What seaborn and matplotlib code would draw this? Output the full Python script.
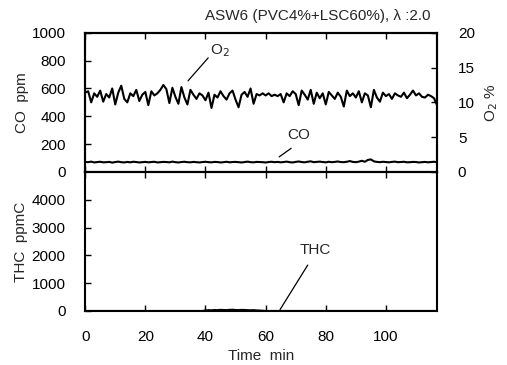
import numpy as np
import pandas as pd
import matplotlib
matplotlib.use("Agg")
import matplotlib.pyplot as plt
import seaborn as sns

sns.set_theme(style="white")
plt.rcParams['font.family'] = ['Liberation Sans', 'DejaVu Sans']

# ---- data ----
time_min = list(range(0, 118))
o2_pct = [11.4, 11.6, 10.0, 11.3, 10.8, 11.7, 10.1, 11.2, 10.7, 12.0,
          9.7, 11.4, 12.4, 10.5, 10.0, 11.3, 10.9, 11.8, 10.2, 11.1,
          11.5, 9.6, 11.6, 11.0, 11.3, 11.8, 12.5, 11.9, 9.9, 12.1,
          10.8, 9.8, 12.2, 10.7, 9.7, 11.8, 11.1, 10.5, 11.3, 11.0,
          10.3, 11.4, 9.2, 11.1, 10.7, 11.6, 10.9, 10.4, 11.3, 11.7,
          10.4, 9.3, 11.1, 11.5, 10.8, 12.0, 9.8, 11.2, 11.0, 11.3,
          11.0, 11.3, 10.9, 11.1, 10.9, 11.2, 10.0, 11.3, 10.9, 11.6,
          11.2, 9.6, 11.7, 11.1, 10.4, 11.8, 9.8, 11.4, 10.6, 11.3,
          9.7, 11.5, 11.0, 10.5, 11.4, 10.8, 9.4, 11.7, 10.9, 11.3,
          10.7, 11.6, 10.0, 11.3, 11.0, 9.3, 11.8, 10.7, 10.1, 11.4,
          10.9, 11.2, 10.5, 11.3, 11.0, 10.8, 11.4, 10.6, 11.1, 11.7,
          11.0, 11.3, 10.8, 10.7, 11.1, 10.9, 10.6, 9.6]
co_ppm = [72, 70, 74, 68, 71, 73, 69, 70, 72, 67,
          71, 74, 70, 68, 72, 69, 73, 71, 68, 70,
          72, 69, 71, 73, 68, 70, 72, 71, 69, 74,
          70, 68, 71, 73, 70, 69, 72, 70, 68, 71,
          73, 70, 69, 72, 71, 68, 70, 73, 69, 71,
          72, 70, 68, 71, 74, 70, 69, 72, 71, 70,
          68, 71, 73, 70, 72, 69, 71, 74, 70, 68,
          72, 75, 71, 69, 73, 76, 70, 72, 74, 71,
          69, 73, 70, 72, 75, 71, 70, 73, 78, 72,
          70, 74, 80, 73, 86, 90, 76, 72, 70, 73,
          71, 69, 72, 74, 70, 71, 73, 69, 70, 72,
          71, 68, 70, 72, 69, 71, 73, 70]
thc_ppmc = [0] * 40 + [20, 30, 25, 35, 30, 40, 35, 30, 40, 45,
                       35, 30, 40, 35, 30, 25, 30, 20, 15, 10] + [0] * 58

title_text = "ASW6 (PVC4%+LSC60%), \u03bb :2.0"

df = pd.DataFrame({"t": time_min, "O2": o2_pct, "CO": co_ppm, "THC": thc_ppmc})

fig = plt.figure(figsize=(5.07, 3.65), dpi=100)
ax1 = fig.add_axes([0.168, 0.529, 0.694, 0.381])
ax2 = fig.add_axes([0.168, 0.148, 0.694, 0.381], sharex=ax1)
ax1r = ax1.twinx()

lw = 1.5
sns.lineplot(data=df, x="t", y="CO", ax=ax1, color="black", lw=lw)
sns.lineplot(data=df, x="t", y="O2", ax=ax1r, color="black", lw=lw)
sns.lineplot(data=df, x="t", y="THC", ax=ax2, color="black", lw=lw)

fs = 11
ax1.set_xlim(0, 117)
ax1.set_ylim(0, 1000)
ax1r.set_ylim(0, 20)
ax2.set_ylim(0, 5000)

ax1.set_yticks([0, 200, 400, 600, 800, 1000])
ax1r.set_yticks([0, 5, 10, 15, 20])
ax2.set_yticks([0, 1000, 2000, 3000, 4000])
ax2.set_xticks([0, 20, 40, 60, 80, 100])

for a in (ax1, ax2, ax1r):
    a.tick_params(direction="in", length=4, width=1.0, labelsize=fs, colors="black")
    for s in a.spines.values():
        s.set_linewidth(1.5)
        s.set_color("black")
ax1.tick_params(axis="x", labelbottom=False, bottom=True, top=True)
ax2.tick_params(axis="x", bottom=True, top=True, pad=14)
ax1.tick_params(axis="y", left=True, pad=14)
ax2.tick_params(axis="y", left=True, pad=14)
ax1r.tick_params(axis="y", right=True, pad=15)

ax1.set_xlabel("")
ax1.set_ylabel("CO  ppm", fontsize=fs, labelpad=2)
ax1r.set_ylabel("O$_2$ %", fontsize=fs, rotation=90, labelpad=6)
ax2.set_ylabel("THC  ppmC", fontsize=fs, labelpad=3)
ax2.set_xlabel("Time  min", fontsize=fs, labelpad=3)

# annotations
ax1.plot([34.2, 40.9], [655, 820], color="black", lw=0.9)
ax1.text(41.5, 870, "O$_2$", fontsize=fs, va="center", ha="left")
ax1.plot([64.5, 68.5], [108, 170], color="black", lw=0.9)
ax1.text(71, 262, "CO", fontsize=fs, va="center", ha="center")
ax2.plot([64.8, 74.0], [50, 1650], color="black", lw=0.9)
ax2.text(76.5, 2200, "THC", fontsize=fs, va="center", ha="center")

fig.text(0.85, 0.955, title_text, fontsize=11, ha="right", va="center")

fig.savefig("out.png", dpi=100)
